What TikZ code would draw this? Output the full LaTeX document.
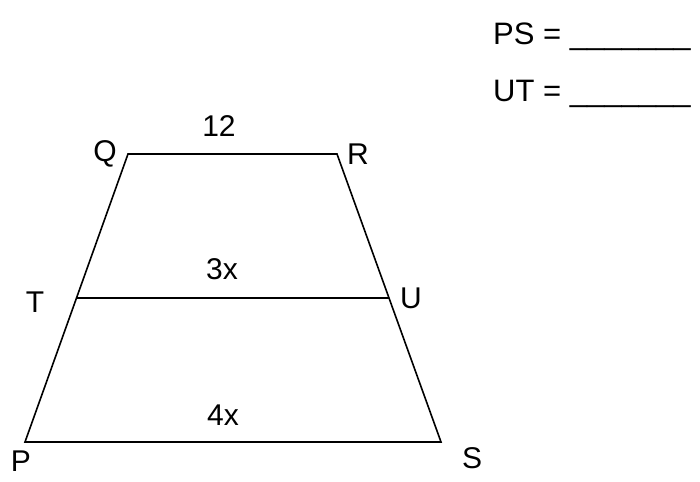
\documentclass[tikz,border=0pt]{standalone}
\usepackage{fontspec}
\setmainfont{Liberation Sans}
\usetikzlibrary{calc}

\tikzset{
  side/.style={line width=1.6pt},
  vlabel/.style={font=\fontsize{30}{34}\selectfont, inner sep=0pt},
  blank/.style={font=\fontsize{31}{36}\selectfont, inner sep=0pt, anchor=base west}
}

\begin{document}
\begin{tikzpicture}[x=1pt,y=-1pt]
  \useasboundingbox (0,0) rectangle (700,481);

  % corners of the trapezoid
  \coordinate (q) at (128,154);
  \coordinate (r) at (337,154);
  \coordinate (p) at (25,442);
  \coordinate (s) at (441,442);
  \coordinate (t) at ($(q)!0.5!(p)$);
  \coordinate (u) at ($(r)!0.5!(s)$);

  \draw[side] (p) -- (q) -- (r) -- (s) -- cycle;
  \draw[side] (t) -- (u);

  % vertex labels
  \node[vlabel] (lq) at (105,154) {Q};
  \node[vlabel] (lr) at (358,154) {R};
  \node[vlabel] (lt) at (35,302) {T};
  \node[vlabel] (lu) at (411,298) {U};
  \node[vlabel] (lp) at (21,461) {P};
  \node[vlabel] (ls) at (472,458) {S};

  % side lengths
  \node[vlabel] (top) at (219,126) {12};
  \node[vlabel] (mid) at (222,269) {3x};
  \node[vlabel] (bot) at (223,415) {4x};

  % questions
  \node[blank] (ps) at (493,45) {PS = \_\_\_\_\_\_\_};
  \node[blank] (ut) at (493,102) {UT = \_\_\_\_\_\_\_};
\end{tikzpicture}
\end{document}
